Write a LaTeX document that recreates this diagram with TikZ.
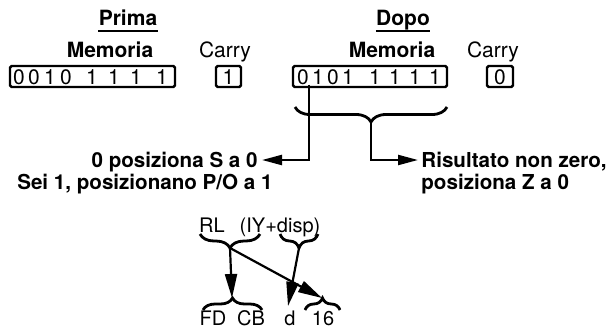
\documentclass[tikz,border=0pt]{standalone}
\usepackage{fontspec}
\setmainfont{TeX Gyre Heros}
\usetikzlibrary{arrows.meta,decorations.pathreplacing,positioning}

\tikzset{
  hdr/.style={font=\fontsize{10.5}{12}\selectfont\bfseries, inner sep=0pt, anchor=base},
  lbl/.style={font=\fontsize{10.5}{12}\selectfont, inner sep=0pt, anchor=base},
  note/.style={font=\fontsize{10.3}{12}\selectfont\bfseries, inner sep=0pt},
  small/.style={font=\fontsize{10}{12}\selectfont, inner sep=0pt, anchor=base},
  bit/.style={font=\fontsize{10.5}{11}\selectfont, inner sep=0pt, anchor=base},
  regbox/.style={draw, line width=1.2pt, rounded corners=0.8pt, minimum height=10.5pt},
  curly/.style={decorate, decoration={brace, amplitude=#1}, line width=1.4pt},
  curly/.default=7pt,
  flow/.style={line width=1.1pt, -{Triangle[length=10pt, width=5pt]}},
  bigflow/.style={line width=1.1pt, -{Triangle[length=12pt, width=6pt]}},
}

\begin{document}
\begin{tikzpicture}[x=0.5pt, y=-0.5pt]
  \useasboundingbox (0,0) rectangle (610,327);

  % before / after headings
  \node[hdr] (prima) at (128,25) {Prima};
  \draw[line width=1pt] ([yshift=-3pt]prima.base west) -- ([yshift=-3pt]prima.base east);
  \node[hdr] (dopo) at (403,25) {Dopo};
  \draw[line width=1pt] ([yshift=-3pt]dopo.base west) -- ([yshift=-3pt]dopo.base east);

  \node[hdr] (memLblA) at (110,57) {Memoria};
  \node[lbl] (carLblA) at (225,57) {Carry};
  \node[hdr] (memLblB) at (392,57) {Memoria};
  \node[lbl] (carLblB) at (493,57) {Carry};

  % registers
  \node[regbox, minimum width=82.5pt] (memA) at (92.5,76.5) {};
  \node[regbox, minimum width=12.5pt] (carA) at (228.5,76.5) {};
  \node[regbox, minimum width=77pt] (memB) at (370,76.5) {};
  \node[regbox, minimum width=13pt] (carB) at (500,76.5) {};

  \foreach \x/\b [count=\i] in {19/0,34/0,50/1,66/0,92/1,114/1,136/1,162/1}
    \node[bit] (bitA\i) at (\x,84) {\b};
  \foreach \x/\b [count=\i] in {303/0,318/1,333/0,348/1,375/1,395/1,415/1,435/1}
    \node[bit] (bitB\i) at (\x,84) {\b};
  \node[bit] (cbitA) at (228.5,84) {1};
  \node[bit] (cbitB) at (500,84) {0};

  % flag notes
  \node[note, anchor=base east] (sLbl) at (258,167) {0 posiziona S a 0};
  \node[note, anchor=base east] (pLbl) at (273,189) {Sei 1, posizionano P/O a 1};
  \node[note, anchor=base west] (zLbl) at (421,167) {Risultato non zero,};
  \node[note, anchor=base west] (zLbl2) at (421,189) {posiziona Z a 0};

  \coordinate (sTip) at (262,160);
  \coordinate (zTip) at (418,160);
  \coordinate (zBrace) at (371,122);
  \draw[curly=7.5pt, decoration={mirror}] (295,107) -- (447,107);
  \draw[flow] ([xshift=3pt]bitB1.south) |- (sTip);
  \draw[flow] (zBrace) |- (zTip);

  % instruction code
  \node[small] (rl) at (212,232) {RL};
  \node[small] (iy) at (280,232) {(IY+disp)};
  \node[small] (fd) at (213,325) {FD};
  \node[small] (cb) at (251,325) {CB};
  \node[small] (dd) at (290,325) {d};
  \node[small] (sx) at (323,325) {16};

  \draw[curly=7pt, decoration={mirror}] (200,234) -- (260,234);
  \draw[curly=7pt, decoration={mirror}] (280,234) -- (318,234);
  \draw[curly=6pt] (203,310) -- (262,310);
  \draw[curly=6pt] (305,310) -- (340,310);
  \coordinate (rlTip) at (230,248);
  \coordinate (iyTip) at (299,248);
  \coordinate (fdTip) at (232,298);
  \coordinate (sxTip) at (322,298);
  \coordinate (ddTip) at (288,306);

  \draw[bigflow] (rlTip) -- (fdTip);
  \draw[bigflow] (rlTip) -- (sxTip);
  \draw[bigflow] (iyTip) -- (ddTip);
\end{tikzpicture}
\end{document}
